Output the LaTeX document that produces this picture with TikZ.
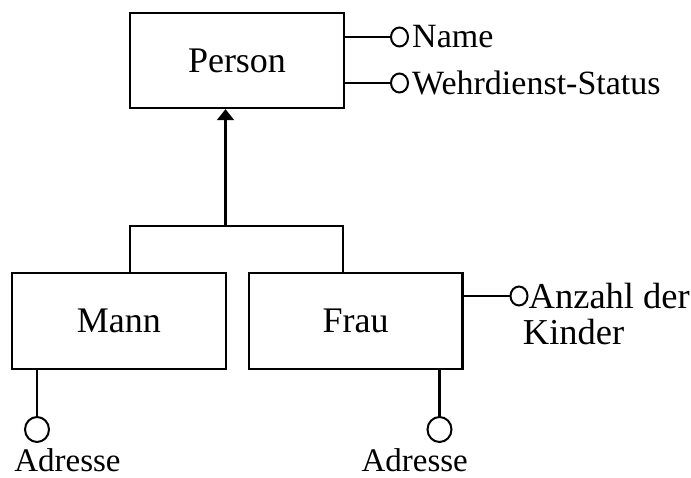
\documentclass[tikz,border=0pt]{standalone}
\usepackage{fontspec}
\setmainfont{Liberation Serif}
\usetikzlibrary{arrows.meta,shapes.geometric}
\begin{document}
\begin{tikzpicture}[x=1pt,y=-1pt,
  entity/.style={draw, line width=2.4pt, inner sep=0pt, font=\fontsize{36}{40}\selectfont},
  attr/.style={draw, ellipse, line width=2pt, inner sep=0pt, minimum width=17pt, minimum height=19pt},
  bigattr/.style={draw, ellipse, line width=2pt, inner sep=0pt, minimum width=24pt, minimum height=25pt},
  attrlabel/.style={inner sep=0pt, font=\fontsize{34}{38}\selectfont},
  link/.style={line width=2.2pt},
  isa/.style={line width=2.2pt, -{Triangle[width=17pt,length=11pt]}}]
\useasboundingbox (0,0) rectangle (691,478);

% entities
\node[entity, minimum width=214pt, minimum height=95pt] (person) at (237,60.5) {Person};
\node[entity, minimum width=213.7pt, minimum height=96pt] (mann) at (118.85,321) {Mann};
\node[entity, minimum width=213.3pt, minimum height=96pt] (frau) at (355.65,321) {Frau};

% attributes of Person
\node[attr] (cname) at (399.5,37) {};
\node[attrlabel, anchor=west, xshift=3pt] (lname) at (cname.east) {Name};
\node[attr] (cwehr) at (399.5,83) {};
\node[attrlabel, anchor=west, xshift=3pt] (lwehr) at (cwehr.east) {Wehrdienst-Status};
\draw[link] (person.east |- cname) -- (cname.west);
\draw[link] (person.east |- cwehr) -- (cwehr.west);

% attribute of Frau
\node[attr] (ckind) at (519,296) {};
\node[attrlabel, anchor=west, font=\fontsize{36.5}{40}\selectfont] (lanz) at (ckind.east) {Anzahl der};
\node[attrlabel, anchor=west, font=\fontsize{36.5}{40}\selectfont] (lkind) at (522.7,332) {Kinder};
\draw[link] (frau.east |- ckind) -- (ckind.west);

% generalisation tree
\coordinate (jmid) at (225.5,226);
\coordinate (jl) at (130,226);
\coordinate (jr) at (343.3,226);
\draw[link] (mann.north -| jl) -- (jl) -- (jr) -- (frau.north -| jr);
\draw[isa] (jmid) -- (person.south -| jmid);

% address attributes
\node[bigattr] (cadrm) at (37,429.5) {};
\node[attrlabel, font=\fontsize{33}{38}\selectfont] (ladrm) at (67.5,460) {Adresse};
\draw[link] (mann.south -| cadrm) -- (cadrm.north);
\node[bigattr] (cadrf) at (439.5,429.5) {};
\node[attrlabel, font=\fontsize{33}{38}\selectfont] (ladrf) at (414.7,460) {Adresse};
\draw[link] (frau.south -| cadrf) -- (cadrf.north);
\end{tikzpicture}
\end{document}
